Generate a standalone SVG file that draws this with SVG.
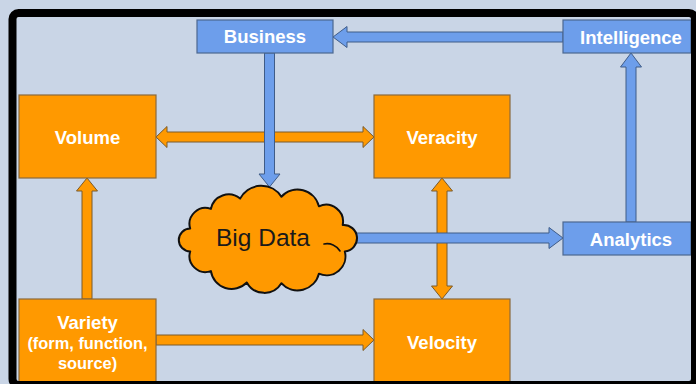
<svg xmlns="http://www.w3.org/2000/svg" width="696" height="384" viewBox="0 0 696 384">
  <style>
    .bg { fill: #c9d5e6; }
    .box-o { fill: #ff9900; stroke: #8a6a3c; stroke-width: 1.2; }
    .box-b { fill: #6d9eeb; stroke: #4c6890; stroke-width: 1.2; }
    .arr-o { fill: #ff9900; stroke: #7a5a2a; stroke-width: 1; stroke-linejoin: miter; }
    .arr-b { fill: #6d9eeb; stroke: #3f5c88; stroke-width: 1; stroke-linejoin: miter; }
    .lbl { font-family: "Liberation Sans", Arial, sans-serif; font-weight: bold; fill: #ffffff; text-anchor: middle; font-size: 18.5px; }
    .sub { font-size: 16.4px; }
    .cloud { fill: #ff9900; stroke: #111111; stroke-width: 2; stroke-linejoin: round; }
    .cloud-in { fill: none; stroke: #111111; stroke-width: 1.6; stroke-linecap: round; }
    .cloud-txt { font-family: "Liberation Sans", Arial, sans-serif; font-size: 24.5px; fill: #1a1a1a; text-anchor: middle; }
  </style>

  <rect class="bg" x="0" y="0" width="696" height="384"/>

  <!-- connectors -->
  <g id="connectors">
    <!-- Volume <-> Veracity -->
    <polygon class="arr-o" points="156,137 167,126.5 167,132 363,132 363,126.5 374,137 363,147.5 363,142 167,142 167,147.5"/>
    <!-- Variety -> Velocity -->
    <polygon class="arr-o" points="156,335 363,335 363,329.5 374,340 363,350.5 363,345 156,345"/>
    <!-- Variety -> Volume -->
    <polygon class="arr-o" points="82,299 82,191 76.5,191 87,178 97.5,191 92,191 92,299"/>
    <!-- Veracity <-> Velocity -->
    <polygon class="arr-o" points="442,178 452.5,191 447,191 447,286 452.5,286 442,299 431.5,286 437,286 437,191 431.5,191"/>
    <!-- Business -> Big Data -->
    <polygon class="arr-b" points="264.5,53 274.5,53 274.5,174 280,174 269.5,187 259,174 264.5,174"/>
    <!-- Intelligence -> Business -->
    <polygon class="arr-b" points="563,32 347,32 347,26.5 333,37 347,47.5 347,42 563,42"/>
    <!-- Analytics -> Intelligence -->
    <polygon class="arr-b" points="626,222 626,67 620.5,67 631,53 641.5,67 636,67 636,222"/>
    <!-- Big Data -> Analytics -->
    <polygon class="arr-b" points="340,233 549,233 549,227.5 563,238 549,248.5 549,243 340,243"/>
  </g>

  <g id="business">
    <rect class="box-b" x="197" y="20" width="136" height="33"/>
    <text class="lbl" x="265" y="43">Business</text>
  </g>

  <g id="intelligence">
    <rect class="box-b" x="563" y="20" width="128" height="33"/>
    <text class="lbl" x="631" y="43.5">Intelligence</text>
  </g>

  <g id="analytics">
    <rect class="box-b" x="563" y="222" width="128" height="33"/>
    <text class="lbl" x="631" y="245.5">Analytics</text>
  </g>

  <g id="volume">
    <rect class="box-o" x="19" y="95" width="137" height="83"/>
    <text class="lbl" x="87.5" y="143.5">Volume</text>
  </g>

  <g id="veracity">
    <rect class="box-o" x="374" y="95" width="136" height="83"/>
    <text class="lbl" x="442" y="143.5">Veracity</text>
  </g>

  <g id="variety">
    <rect class="box-o" x="19" y="299" width="137" height="95"/>
    <text class="lbl" x="87.5" y="329">Variety</text>
    <text class="lbl sub" x="87.5" y="348.5">(form, function,</text>
    <text class="lbl sub" x="87.5" y="368.5">source)</text>
  </g>

  <g id="velocity">
    <rect class="box-o" x="374" y="299" width="136" height="95"/>
    <text class="lbl" x="442" y="348.5">Velocity</text>
  </g>

  <g id="big-data">
    <path class="cloud" d="M190.2,228.6
      A16,16 0 0 1 210.9,208.9
      A18,18 0 0 1 240.1,198.6
      A24,24 0 0 1 281.4,196.7
      A22,22 0 0 1 318.9,206.3
      A17,17 0 0 1 342.7,225
      A13,13 0 0 1 344.8,251.4
      A19,19 0 0 1 318.9,273.7
      A22,22 0 0 1 281.4,283.3
      A20,20 0 0 1 246.8,282.5
      A21,21 0 0 1 210.9,271.1
      A16,16 0 0 1 190.2,251.4
      A11,11 0 0 1 190.2,228.6 Z"/>
    <path class="cloud-in" d="M324,244 A15,15 0 0 1 340,251"/>
    <text class="cloud-txt" x="263" y="246">Big Data</text>
  </g>

  <!-- outer frame -->
  <rect x="12.5" y="13" width="682.5" height="372" rx="6" fill="none" stroke="#000000" stroke-width="8"/>
</svg>
